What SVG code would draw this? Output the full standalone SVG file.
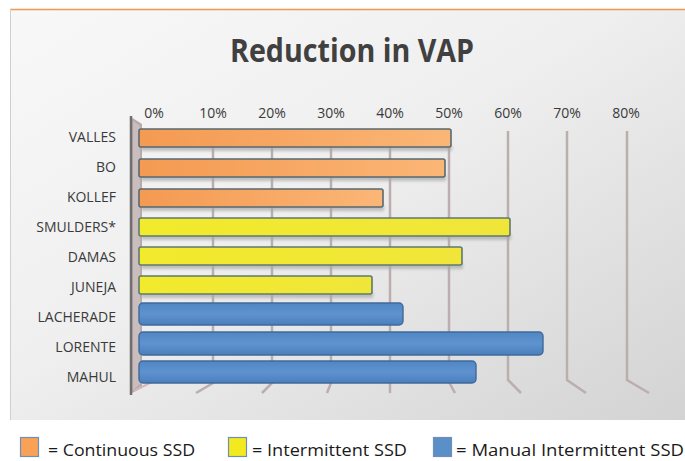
<svg xmlns="http://www.w3.org/2000/svg" width="685" height="461" viewBox="0 0 685 461">
  <defs>
    <linearGradient id="bg" x1="0" y1="0" x2="1" y2="1">
      <stop offset="0" stop-color="#f8f8f8"/>
      <stop offset="0.45" stop-color="#efefef"/>
      <stop offset="1" stop-color="#d3d3d3"/>
    </linearGradient>
    <linearGradient id="gOrange" x1="0" y1="0" x2="1" y2="0">
      <stop offset="0" stop-color="#f49a52"/>
      <stop offset="1" stop-color="#fbb676"/>
    </linearGradient>
    <linearGradient id="gYellow" x1="0" y1="0" x2="1" y2="0">
      <stop offset="0" stop-color="#f2ea2c"/>
      <stop offset="1" stop-color="#f0e63a"/>
    </linearGradient>
    <linearGradient id="gBlue" x1="0" y1="0" x2="0" y2="1">
      <stop offset="0" stop-color="#4f86c4"/>
      <stop offset="0.5" stop-color="#5f93cf"/>
      <stop offset="1" stop-color="#4a7fbd"/>
    </linearGradient>
    <filter id="soft" x="-5%" y="-50%" width="110%" height="200%">
      <feGaussianBlur stdDeviation="1.5"/>
    </filter>
  </defs>
  <style>
    .lbl { font-family: "Open Sans", "Liberation Sans", sans-serif; font-size: 14px; fill: #3a3a3a; }
    .cat { text-anchor: end; }
    .pct { text-anchor: middle; }
    .grid { stroke: #bcaeae; stroke-width: 2.5; fill: none; }
    .shadow { fill: #a8a8a8; opacity: 0.7; filter: url(#soft); }
    .bo { fill: url(#gOrange); stroke: #566a72; stroke-width: 1.6; }
    .by { fill: url(#gYellow); stroke: #5d7a6e; stroke-width: 1.6; }
    .bb { fill: url(#gBlue); stroke: #40699a; stroke-width: 1.4; }
    .leg { font-family: "Open Sans", "Liberation Sans", sans-serif; font-size: 16px; fill: #1a1a1a; }
  </style>

  <!-- chart area -->
  <rect x="10" y="9" width="675" height="411" fill="url(#bg)"/>
  <line x1="10" y1="9.5" x2="685" y2="9.5" stroke="#f0984c" stroke-width="1.5"/>
  <line x1="10.5" y1="9" x2="10.5" y2="420" stroke="#cfcfcf" stroke-width="1"/>

  <!-- title -->
  <text x="230" y="62" textLength="244" lengthAdjust="spacingAndGlyphs" font-family="Open Sans, Liberation Sans, sans-serif" font-size="32" font-weight="bold" fill="#404040">Reduction in VAP</text>

  <!-- value axis labels -->
  <g id="axis-labels">
    <text class="lbl pct" x="154" y="118">0%</text>
    <text class="lbl pct" x="213" y="118">10%</text>
    <text class="lbl pct" x="272" y="118">20%</text>
    <text class="lbl pct" x="331" y="118">30%</text>
    <text class="lbl pct" x="390" y="118">40%</text>
    <text class="lbl pct" x="449" y="118">50%</text>
    <text class="lbl pct" x="508" y="118">60%</text>
    <text class="lbl pct" x="567" y="118">70%</text>
    <text class="lbl pct" x="626" y="118">80%</text>
  </g>

  <!-- back gridlines with floor segments -->
  <g id="gridlines">
    <polyline class="grid" points="213,131 213,383 196,393"/>
    <polyline class="grid" points="272,131 272,383 262,393"/>
    <polyline class="grid" points="331,131 331,383 327,393"/>
    <polyline class="grid" points="390,131 390,393"/>
    <polyline class="grid" points="449,131 449,382 455,393"/>
    <polyline class="grid" points="508,131 508,380 521,393"/>
    <polyline class="grid" points="567,131 567,380 586,393"/>
    <polyline class="grid" points="627,131 627,380 649,393"/>
  </g>

  <!-- left wall -->
  <g id="wall">
    <polygon points="131,117 142,124 142,386 131,394" fill="#b8abab"/>
    <polygon points="133,121 140,126 140,384 133,390" fill="#c9bdbd"/>
    <line x1="131" y1="116" x2="131" y2="395" stroke="#6f6f6f" stroke-width="2.5"/>
    <line x1="134" y1="391" x2="154" y2="381" stroke="#d4b8b8" stroke-width="2"/>
  </g>

  <!-- category labels -->
  <g id="categories">
    <text class="lbl cat" x="116" y="142">VALLES</text>
    <text class="lbl cat" x="116" y="172">BO</text>
    <text class="lbl cat" x="116" y="202">KOLLEF</text>
    <text class="lbl cat" x="116" y="232">SMULDERS*</text>
    <text class="lbl cat" x="116" y="262">DAMAS</text>
    <text class="lbl cat" x="116" y="292">JUNEJA</text>
    <text class="lbl cat" x="116" y="322">LACHERADE</text>
    <text class="lbl cat" x="116" y="352">LORENTE</text>
    <text class="lbl cat" x="116" y="382">MAHUL</text>
  </g>

  <!-- bars -->
  <g id="bar-valles">
    <rect class="shadow" x="141" y="145" width="311" height="6"/>
    <rect class="bo" x="139" y="129" width="312" height="18" rx="2"/>
  </g>
  <g id="bar-bo">
    <rect class="shadow" x="141" y="175" width="305" height="6"/>
    <rect class="bo" x="139" y="159" width="306" height="18" rx="2"/>
  </g>
  <g id="bar-kollef">
    <rect class="shadow" x="141" y="205" width="243" height="6"/>
    <rect class="bo" x="139" y="189" width="244" height="18" rx="2"/>
  </g>
  <g id="bar-smulders">
    <rect class="shadow" x="141" y="234" width="370" height="6"/>
    <rect class="by" x="139" y="218" width="371" height="18" rx="2"/>
  </g>
  <g id="bar-damas">
    <rect class="shadow" x="141" y="263" width="322" height="6"/>
    <rect class="by" x="139" y="247" width="323" height="18" rx="2"/>
  </g>
  <g id="bar-juneja">
    <rect class="shadow" x="141" y="292" width="232" height="6"/>
    <rect class="by" x="139" y="276" width="233" height="18" rx="2"/>
  </g>
  <g id="bar-lacherade">
    <rect class="bb" x="139" y="303" width="264" height="22" rx="4"/>
  </g>
  <g id="bar-lorente">
    <rect class="bb" x="139" y="332" width="404" height="23" rx="4"/>
  </g>
  <g id="bar-mahul">
    <rect class="bb" x="139" y="361" width="337" height="22" rx="4"/>
  </g>

  <!-- legend -->
  <g id="legend">
    <rect x="20.5" y="437.5" width="18" height="19" fill="#f9a257" stroke="#6f8fb8" stroke-width="1.2"/>
    <text class="leg" x="48" y="456" textLength="147" lengthAdjust="spacingAndGlyphs">= Continuous SSD</text>
    <rect x="228.5" y="437.5" width="18" height="19" fill="#f2ea1e" stroke="#6f8fb8" stroke-width="1.2"/>
    <text class="leg" x="252" y="456" textLength="155" lengthAdjust="spacingAndGlyphs">= Intermittent SSD</text>
    <rect x="433.5" y="437.5" width="18" height="19" fill="#5b8fc8" stroke="#6f8fb8" stroke-width="1.2"/>
    <text class="leg" x="456" y="456" textLength="228" lengthAdjust="spacingAndGlyphs">= Manual Intermittent SSD</text>
  </g>
</svg>
